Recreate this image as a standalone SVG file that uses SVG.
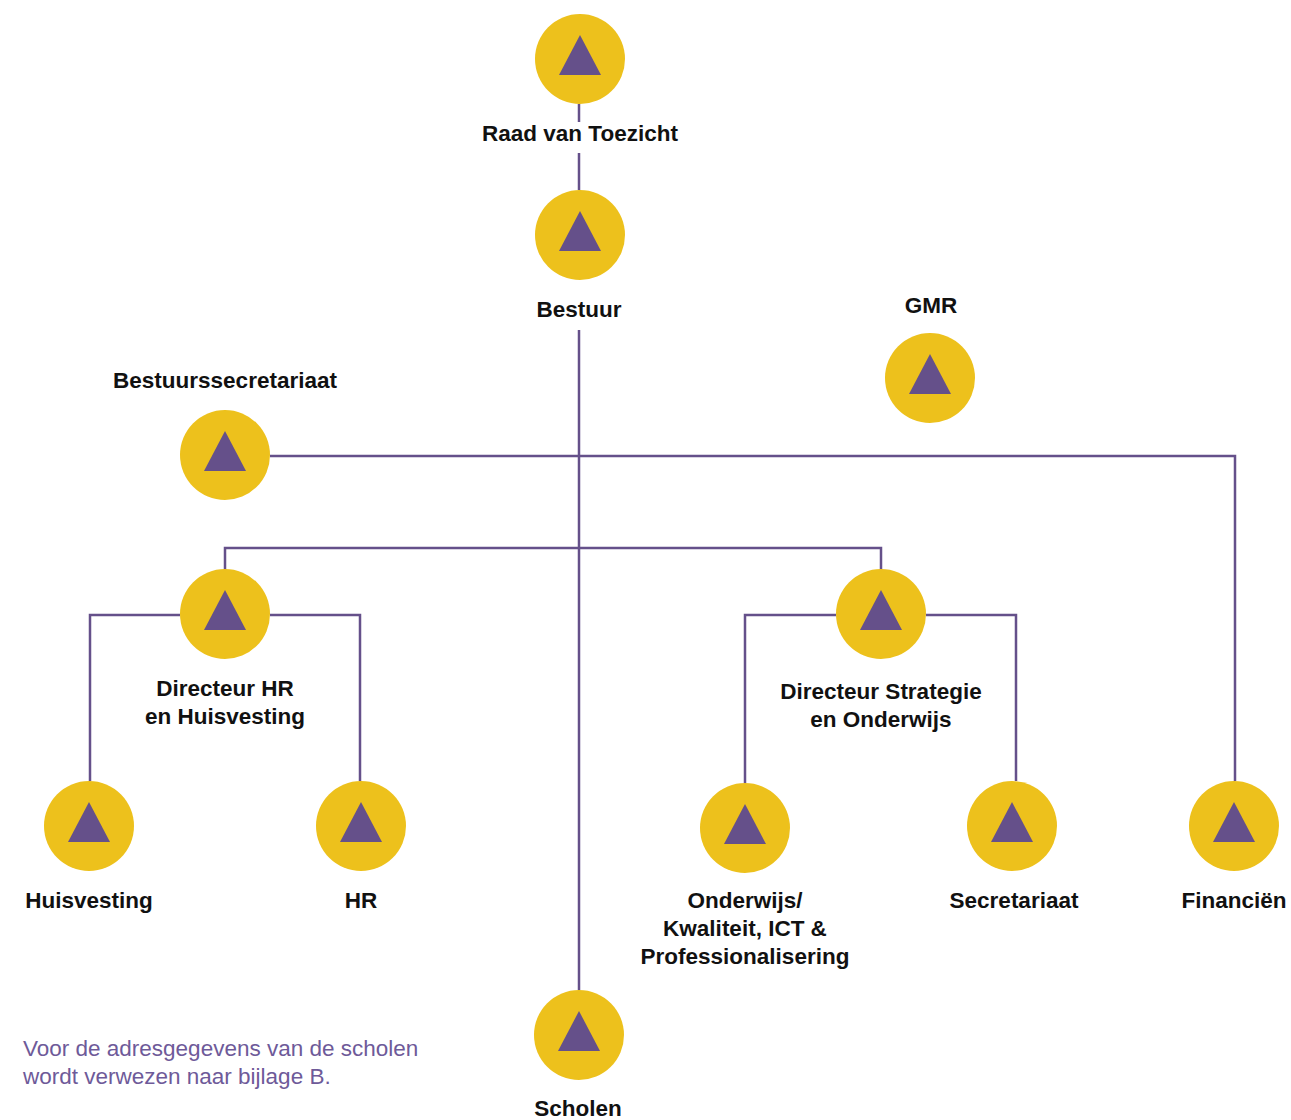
<svg xmlns="http://www.w3.org/2000/svg" width="1291" height="1120" viewBox="0 0 1291 1120">
<defs>
<style>
.c{fill:#EDC11C}
.t{fill:#65508A}
.lbl{font-family:"Liberation Sans",Arial,sans-serif;font-weight:bold;font-size:22.5px;fill:#111;text-anchor:middle}
.note{font-family:"Liberation Sans",Arial,sans-serif;font-size:22.5px;fill:#6E5A99}
.ln{fill:none;stroke:#65508A;stroke-width:2.5}
</style>
<g id="sym">
<circle class="c" r="45"/>
<polygon class="t" points="0,-24 21,16 -21,16"/>
</g>
</defs>
<rect width="1291" height="1120" fill="#fff"/>
<g id="connectors">
<path class="ln" d="M579,104 V122 M579,153 V190"/>
<path class="ln" d="M579,330 V990"/>
<path class="ln" d="M270,456 H1235 V781"/>
<path class="ln" d="M225,570 V548 H881 V570"/>
<path class="ln" d="M180,615 H90 V781 M270,615 H360 V781"/>
<path class="ln" d="M836,615 H745 V783 M926,615 H1016 V781"/>
</g>
<g id="raad"><use href="#sym" x="580" y="59"/><text class="lbl" x="580" y="141">Raad van Toezicht</text></g>
<g id="bestuur"><use href="#sym" x="580" y="235"/><text class="lbl" x="579" y="317">Bestuur</text></g>
<g id="gmr"><use href="#sym" x="930" y="378"/><text class="lbl" x="931" y="313">GMR</text></g>
<g id="bestuurssecretariaat"><use href="#sym" x="225" y="455"/><text class="lbl" x="225" y="388">Bestuurssecretariaat</text></g>
<g id="dir-hr"><use href="#sym" x="225" y="614"/><text class="lbl" x="225" y="696">Directeur HR</text><text class="lbl" x="225" y="724">en Huisvesting</text></g>
<g id="dir-strategie"><use href="#sym" x="881" y="614"/><text class="lbl" x="881" y="699">Directeur Strategie</text><text class="lbl" x="881" y="727">en Onderwijs</text></g>
<g id="huisvesting"><use href="#sym" x="89" y="826"/><text class="lbl" x="89" y="908">Huisvesting</text></g>
<g id="hr"><use href="#sym" x="361" y="826"/><text class="lbl" x="361" y="908">HR</text></g>
<g id="onderwijs"><use href="#sym" x="745" y="828"/><text class="lbl" x="745" y="908">Onderwijs/</text><text class="lbl" x="745" y="936">Kwaliteit, ICT &amp;</text><text class="lbl" x="745" y="964">Professionalisering</text></g>
<g id="secretariaat"><use href="#sym" x="1012" y="826"/><text class="lbl" x="1014" y="908">Secretariaat</text></g>
<g id="financien"><use href="#sym" x="1234" y="826"/><text class="lbl" x="1234" y="908">Financiën</text></g>
<g id="scholen"><use href="#sym" x="579" y="1035"/><text class="lbl" x="578" y="1116">Scholen</text></g>
<g id="note"><text class="note" x="23" y="1056">Voor de adresgegevens van de scholen</text><text class="note" x="23" y="1084">wordt verwezen naar bijlage B.</text></g>
</svg>
